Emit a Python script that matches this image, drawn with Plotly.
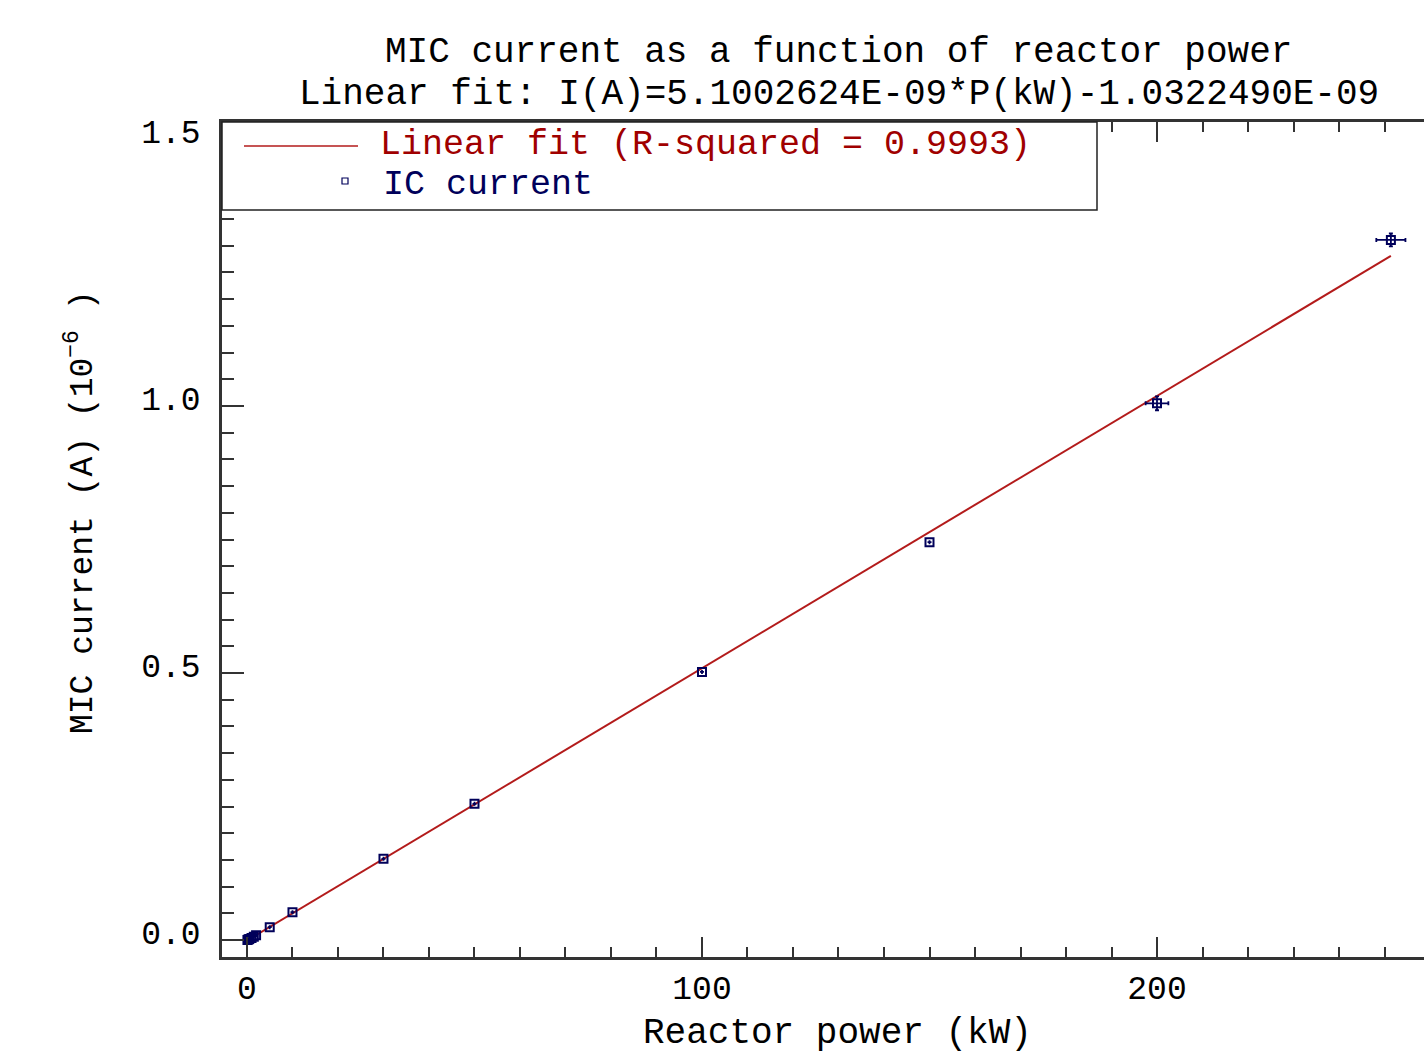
import plotly.graph_objects as go

# ---- data (reactor power in kW, current in units of 1e-6 A) ----
power_kw = [0.1, 0.3, 0.5, 1.0, 1.5, 2.0, 5.0, 10.0, 30.0, 50.0, 100.0, 150.0, 200.0, 251.4]
current_ua = [0.000, 0.001, 0.002, 0.004, 0.006, 0.009, 0.024, 0.052, 0.152, 0.255, 0.502, 0.745, 1.005, 1.311]
power_err = [0, 0, 0, 0, 0, 0, 0, 0, 0, 0, 0, 0, 2.5, 3.2]
current_err = [0, 0, 0, 0, 0, 0, 0, 0, 0, 0, 0, 0, 0.013, 0.012]

fit_x = [0.1, 251.4]
fit_y = [-0.0005, 1.281]

title_line1 = "MIC current as a function of reactor power"
title_line2 = "Linear fit: I(A)=5.1002624E-09*P(kW)-1.0322490E-09"
legend_fit = "Linear fit (R-squared = 0.9993)"
legend_pts = "IC current"
x_title = "Reactor power (kW)"
y_title = "MIC current (A) (10<sup>\u22126</sup> )"

x_ticks = [0, 100, 200]
y_ticks = [0.0, 0.5, 1.0, 1.5]

RED = "#b31b1b"
RED_TXT = "#a00000"
NAVY = "#00005a"
MONO = "Courier New, Liberation Mono, monospace"
TICKF = "Liberation Mono, monospace"

fig = go.Figure()

fig.add_trace(go.Scatter(
    x=fit_x, y=fit_y, mode="lines",
    line=dict(color=RED, width=2),
    name=legend_fit, showlegend=False, hoverinfo="skip",
))

fig.add_trace(go.Scatter(
    x=power_kw, y=current_ua, mode="markers",
    marker=dict(symbol="square-open", size=8, color=NAVY, line=dict(width=2, color=NAVY)),
    error_x=dict(type="data", array=power_err, visible=True, color=NAVY, thickness=1.8, width=2),
    error_y=dict(type="data", array=current_err, visible=True, color=NAVY, thickness=1.8, width=2),
    name=legend_pts, showlegend=False,
))

# plot area in pixels: left 222, right 1424, top 122, bottom 957
L, R, T, B = 222, 1424, 122, 957
W, H = R - L, B - T

def px(X):
    return (X - L) / W

def py(Y):
    return (B - Y) / H

annotations = [
    dict(text=title_line1, x=px(838), y=py(52), xref="paper", yref="paper",
         showarrow=False, xanchor="center", yanchor="middle",
         font=dict(family=MONO, size=36, color="black")),
    dict(text=title_line2, x=px(839), y=py(94), xref="paper", yref="paper",
         showarrow=False, xanchor="center", yanchor="middle",
         font=dict(family=MONO, size=36, color="black")),
    dict(text=legend_fit, x=px(378), y=py(145), xref="paper", yref="paper",
         showarrow=False, xanchor="left", yanchor="middle",
         font=dict(family=MONO, size=35, color=RED_TXT)),
    dict(text=legend_pts, x=px(381), y=py(185), xref="paper", yref="paper",
         showarrow=False, xanchor="left", yanchor="middle",
         font=dict(family=MONO, size=35, color=NAVY)),
    # axis titles
    dict(text=x_title, x=px(837), y=py(1033), xref="paper", yref="paper",
         showarrow=False, xanchor="center", yanchor="middle",
         font=dict(family=MONO, size=36, color="black")),
    dict(text=y_title, x=px(80), y=py(512), xref="paper", yref="paper",
         showarrow=False, xanchor="center", yanchor="middle", textangle=-90,
         font=dict(family=MONO, size=33, color="black")),
]

shapes = [
    # legend frame
    dict(type="rect", xref="paper", yref="paper", x0=0, x1=px(1097), y0=py(210), y1=1,
         line=dict(color="#222222", width=1.5), fillcolor="white", layer="above"),
    # legend line sample
    dict(type="line", xref="paper", yref="paper", x0=px(244), x1=px(358), y0=py(146), y1=py(146),
         line=dict(color=RED, width=1.5), layer="above"),
    # legend marker sample
    dict(type="rect", xref="paper", yref="paper", x0=px(342), x1=px(348), y0=py(184), y1=py(178),
         line=dict(color=NAVY, width=1.2), fillcolor="white", layer="above"),
]

fig.update_layout(
    width=1424, height=1055,
    margin=dict(l=L, r=1424 - R, t=T, b=1055 - B),
    paper_bgcolor="white", plot_bgcolor="white",
    showlegend=False,
    annotations=annotations,
    shapes=shapes,
    font=dict(family=TICKF, size=33, color="black"),
)

fig.update_xaxes(
    range=[-5.49, 258.68],
    tickmode="array", tickvals=x_ticks, ticktext=[str(v) for v in x_ticks],
    ticks="inside", ticklen=20, tickwidth=1.5, tickcolor="#333333",
    minor=dict(dtick=10, tick0=0, ticks="inside", ticklen=10, tickwidth=1.5, tickcolor="#333333"),
    showline=True, linewidth=2.5, linecolor="#333333", mirror="ticks",
    showgrid=False, zeroline=False,
    tickfont=dict(family=TICKF, size=33, color="black"),
    ticklabelstandoff=0,
)

fig.update_yaxes(
    range=[-0.0318, 1.5318],
    tickmode="array", tickvals=y_ticks, ticktext=["%.1f" % v for v in y_ticks],
    ticks="inside", ticklen=22, tickwidth=1.5, tickcolor="#333333",
    minor=dict(dtick=0.05, tick0=0, ticks="inside", ticklen=12, tickwidth=1.5, tickcolor="#333333"),
    showline=True, linewidth=2.5, linecolor="#333333", mirror=False,
    showgrid=False, zeroline=False,
    tickfont=dict(family=TICKF, size=33, color="black"),
    ticklabelstandoff=12, ticklabelshift=-8,
)

fig.write_html(
    "out.html",
    config={"displayModeBar": False},
    post_script="document.body.style.margin='0';document.body.style.overflow='hidden';",
)
